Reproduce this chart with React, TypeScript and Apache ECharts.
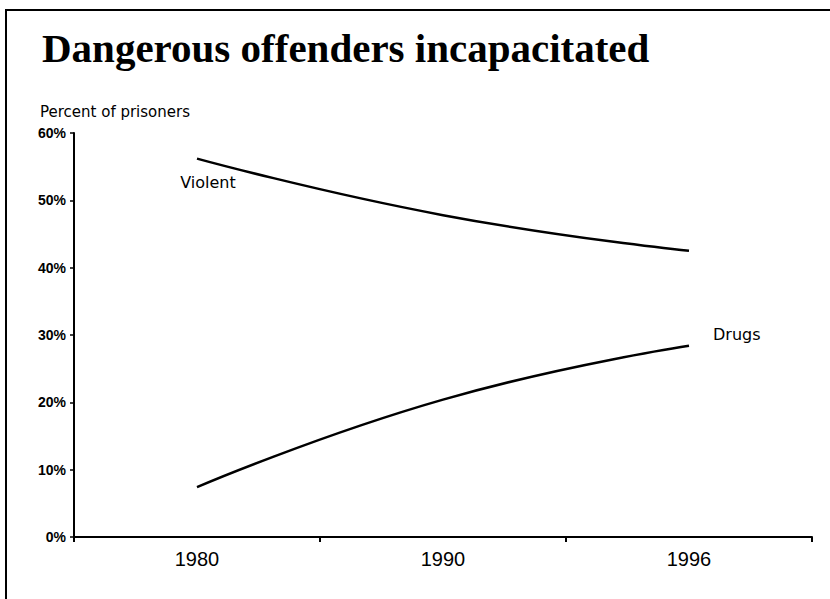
import React, { useEffect, useRef } from "react";
import * as echarts from "echarts";

const title = "Dangerous offenders incapacitated";
const yAxisTitle = "Percent of prisoners";
const years = ["1980", "1990", "1996"];
const violent = [56.2, 47.8, 42.5];
const drugs = [7.4, 20.4, 28.4];
const seriesNames = ["Violent", "Drugs"];

export default function App() {
  const ref = useRef<HTMLDivElement>(null);
  useEffect(() => {
    document.body.style.margin = "0";
    const chart = echarts.init(ref.current!, null, { renderer: "svg" });
    const lineStyle = { color: "#000", width: 2.5 };
    chart.setOption({
      animation: false,
      backgroundColor: "#fff",
      grid: { left: 74, right: 18, top: 133, bottom: 62, containLabel: false },
      xAxis: {
        type: "category",
        data: years,
        boundaryGap: true,
        axisLine: { lineStyle: { color: "#000", width: 2 } },
        axisTick: { show: true, inside: false, length: 5, lineStyle: { color: "#000", width: 2 } },
        axisLabel: {
          color: "#000",
          fontFamily: "Liberation Sans",
          fontSize: 20,
          margin: 12,
        },
        splitLine: { show: false },
      },
      yAxis: {
        type: "value",
        min: 0,
        max: 60,
        interval: 10,
        axisLine: { show: true, lineStyle: { color: "#000", width: 2 } },
        axisTick: { show: true, length: 4, lineStyle: { color: "#000", width: 1.5 } },
        axisLabel: {
          color: "#000",
          fontFamily: "Liberation Sans",
          fontWeight: "bold",
          fontSize: 14,
          margin: 8,
          formatter: "{value}%",
        },
        splitLine: { show: false },
      },
      graphic: [
        {
          type: "rect",
          shape: { x: 6, y: 10, width: 840, height: 620 },
          style: { fill: "none", stroke: "#000", lineWidth: 2 },
          silent: true,
        },
        {
          type: "text",
          x: 42,
          y: 48,
          style: {
            text: title,
            fontFamily: "Liberation Serif",
            fontWeight: "bold",
            fontSize: 41,
            fill: "#000",
            textVerticalAlign: "middle",
          },
        },
        {
          type: "text",
          x: 40,
          y: 112,
          style: {
            text: yAxisTitle,
            fontFamily: "DejaVu Sans",
            fontSize: 15,
            fill: "#000",
            textVerticalAlign: "middle",
          },
        },
      ],
      series: [
        {
          name: seriesNames[0],
          type: "line",
          smooth: 0.5,
          symbol: "circle",
          symbolSize: 0,
          showSymbol: true,
          lineStyle,
          data: violent.map((v, i) =>
            i === 0
              ? {
                  value: v,
                  label: {
                    show: true,
                    formatter: seriesNames[0],
                    position: "bottom",
                    distance: 16,
                    offset: [11, 0],
                    color: "#000",
                    fontFamily: "DejaVu Sans",
                    fontSize: 16,
                  },
                }
              : v
          ),
        },
        {
          name: seriesNames[1],
          type: "line",
          smooth: 0.5,
          symbol: "circle",
          symbolSize: 0,
          showSymbol: true,
          lineStyle,
          data: drugs.map((v, i) =>
            i === drugs.length - 1
              ? {
                  value: v,
                  label: {
                    show: true,
                    formatter: seriesNames[1],
                    position: "right",
                    distance: 24,
                    offset: [0, -11],
                    color: "#000",
                    fontFamily: "DejaVu Sans",
                    fontSize: 16,
                  },
                }
              : v
          ),
        },
      ],
    });
    return () => chart.dispose();
  }, []);
  return (
    <div
      ref={ref}
      style={{ position: "fixed", left: 0, top: 0, width: 830, height: 599 }}
    />
  );
}
